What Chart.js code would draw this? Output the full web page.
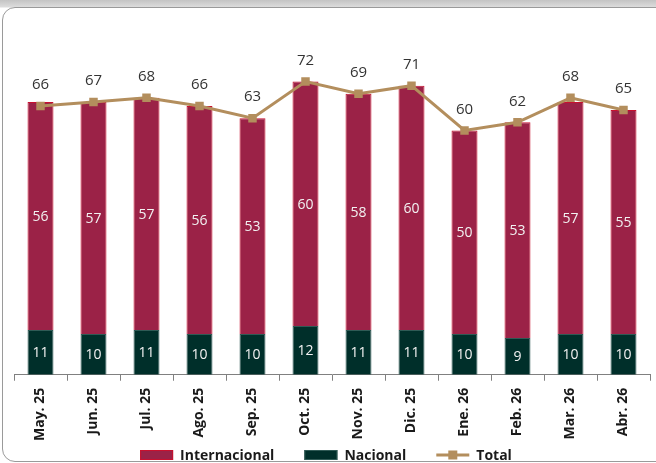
<!DOCTYPE html>
<html>
<head>
<meta charset="utf-8">
<script src="https://cdn.jsdelivr.net/npm/chart.js@4"></script>
<style>
  html, body { margin: 0; padding: 0; }
  body {
    width: 656px; height: 463px; overflow: hidden; position: relative;
    background: linear-gradient(to bottom, #c4c4c4 0px, #dcdcdc 7px, #ffffff 8px);
    font-family: "Open Sans", sans-serif;
  }
  #marco {
    position: absolute; left: 2px; top: 7px; width: 700px; height: 453px;
    border: 1px solid #9a9a9a; border-radius: 13px; background: #fff;
  }
  #wrap { position: absolute; left: 0; top: 0; width: 656px; height: 463px; }
</style>
</head>
<body>
<div id="marco"></div>
<div id="wrap"><canvas id="myChart"></canvas></div>
<script>
var meses = ['May. 25', 'Jun. 25', 'Jul. 25', 'Ago. 25', 'Sep. 25', 'Oct. 25',
             'Nov. 25', 'Dic. 25', 'Ene. 26', 'Feb. 26', 'Mar. 26', 'Abr. 26'];
var internacional = [56, 57, 57, 56, 53, 60, 58, 60, 50, 53, 57, 55];
var nacional = [11, 10, 11, 10, 10, 12, 11, 11, 10, 9, 10, 10];
var total = [66, 67, 68, 66, 63, 72, 69, 71, 60, 62, 68, 65];

var colorInter = '#9b2247';
var colorNac = '#002f2a';
var colorTotal = '#b38e5d';

// etiquetas de valores (no hay plugin datalabels)
const etiquetas = {
    id: 'etiquetas',
    afterDatasetsDraw(chart) {
        const ctx = chart.ctx;
        ctx.save();
        ctx.textAlign = 'center';
        ctx.textBaseline = 'middle';
        chart.data.datasets.forEach(function (ds, i) {
            const meta = chart.getDatasetMeta(i);
            meta.data.forEach(function (el, j) {
                if (ds.type == 'line') {
                    ctx.font = '15px "Open Sans"';
                    ctx.fillStyle = '#333333';
                    ctx.fillText(ds.data[j], el.x, el.y - 21);
                } else {
                    ctx.font = '14px "Open Sans"';
                    ctx.fillStyle = '#f2f2f2';
                    ctx.fillText(ds.data[j], el.x, (el.y + el.base) / 2 + 1);
                }
            });
        });
        ctx.restore();
    }
};

// leyenda dibujada a mano (linea con marcador para Total)
const leyenda = {
    id: 'leyenda',
    afterDraw(chart) {
        const ctx = chart.ctx;
        const items = [chart.data.datasets[2], chart.data.datasets[1], chart.data.datasets[0]];
        ctx.save();
        ctx.font = 'bold 14px "Open Sans"';
        const caja = 33, hueco = 7, sep = 30;
        var ancho = 0;
        items.forEach(function (ds, k) {
            ancho += caja + hueco + ctx.measureText(ds.label).width + (k < items.length - 1 ? sep : 0);
        });
        var x = 326 - ancho / 2;
        const y = 455;
        items.forEach(function (ds) {
            if (ds.type == 'line') {
                ctx.strokeStyle = ds.borderColor;
                ctx.lineWidth = 3;
                ctx.beginPath();
                ctx.moveTo(x, y);
                ctx.lineTo(x + caja, y);
                ctx.stroke();
                ctx.fillStyle = ds.borderColor;
                ctx.fillRect(x + caja / 2 - 4.5, y - 4.5, 9, 9);
            } else {
                ctx.fillStyle = ds.backgroundColor;
                ctx.fillRect(x, y - 5, caja, 10);
                ctx.strokeStyle = ds.borderColor;
                ctx.lineWidth = 1;
                ctx.strokeRect(x + 0.5, y - 4.5, caja - 1, 9);
            }
            x += caja + hueco;
            ctx.fillStyle = '#1a1a1a';
            ctx.textBaseline = 'middle';
            ctx.fillText(ds.label, x, y + 1);
            x += ctx.measureText(ds.label).width + sep;
        });
        ctx.restore();
    }
};

const data = {
    labels: meses,
    datasets: [{
        type: 'line',
        label: 'Total',
        data: total,
        borderColor: colorTotal,
        backgroundColor: colorTotal,
        borderWidth: 3,
        pointStyle: 'rect',
        pointRadius: 6,
        pointBorderWidth: 0,
        tension: 0,
        stack: 'linea',
        order: 0
    }, {
        type: 'bar',
        label: 'Nacional',
        data: nacional,
        backgroundColor: colorNac,
        borderColor: '#2f5a55',
        borderWidth: 1,
        stack: 'barras',
        order: 1
    }, {
        type: 'bar',
        label: 'Internacional',
        data: internacional,
        backgroundColor: colorInter,
        borderColor: '#c8102e',
        borderWidth: 1,
        stack: 'barras',
        order: 1
    }]
};

const config = {
    data: data,
    options: {
        responsive: false,
        animation: false,
        layout: { padding: { left: 14, right: 3, top: 49, bottom: 15 } },
        datasets: { bar: { categoryPercentage: 1, barPercentage: 0.49 } },
        plugins: {
            legend: { display: false },
            tooltip: { enabled: false }
        },
        scales: {
            x: {
                stacked: true,
                grid: { display: true, drawOnChartArea: false, drawTicks: true, tickLength: 6, color: '#808080', offset: true },
                border: { display: true, color: '#808080', width: 1 },
                ticks: {
                    minRotation: 90, maxRotation: 90, padding: 7,
                    color: '#1a1a1a',
                    font: { family: 'Open Sans', size: 14, weight: 'bold' }
                }
            },
            y: {
                stacked: true,
                display: false,
                min: 0,
                max: 80
            }
        }
    },
    plugins: [etiquetas, leyenda]
};

const cv = document.getElementById('myChart');
cv.width = 656;
cv.height = 463;
const myChart = new Chart(cv, config);
</script>
</body>
</html>
